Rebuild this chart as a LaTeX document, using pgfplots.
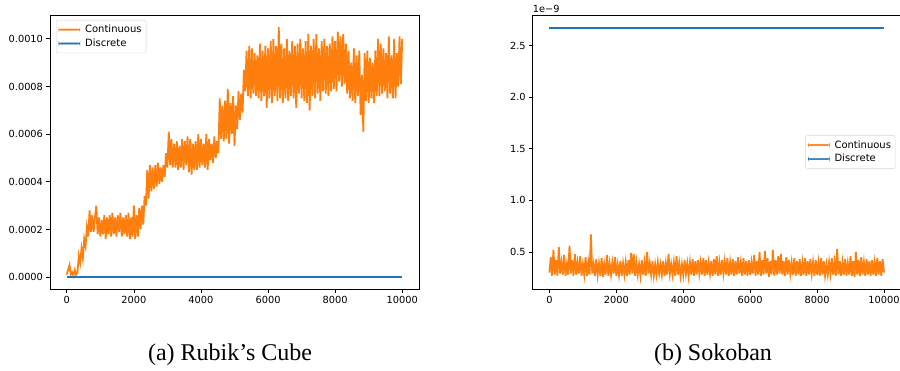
\documentclass[border=0pt]{standalone}
\usepackage{pgfplots}
\pgfplotsset{compat=1.18}
\usepackage{fontspec}
\setmainfont{DejaVu Sans}
\newfontfamily\capfont{Liberation Serif}
\definecolor{mplorange}{HTML}{FF7F0E}
\definecolor{mplblue}{HTML}{1F77B4}
\definecolor{legframe}{HTML}{D6D6D6}
\pgfplotsset{
  mpl/.style={
    scale only axis, width=369pt, height=274pt,
    xmin=-500, xmax=10500,
    tick align=outside, tick pos=left, major tick length=3.5pt,
    axis line style={black, line width=0.7pt},
    every tick/.style={black, line width=0.7pt},
    ticklabel style={font=\fontsize{9.8}{11}\selectfont},
    xtick={0,2000,4000,6000,8000,10000},
    scaled x ticks=false,
    /pgf/number format/1000 sep={},
    /pgf/number format/assume math mode=true,
    legend style={font=\fontsize{10}{12}\selectfont, draw=legframe, rounded corners=2pt,
      fill=white, inner sep=2.5pt, row sep=0pt,
      column sep=3pt,
      nodes={inner xsep=2pt, inner ysep=2.4pt},
      cells={anchor=west}},
  },
  orangeleg/.style={legend image code/.code={\fill[mplorange] (0pt,-0.65pt) rectangle (21pt,0.65pt);}},
  blueleg/.style={legend image code/.code={\fill[mplblue] (0pt,-0.65pt) rectangle (21pt,0.65pt);}},
}
\begin{document}
\begin{tikzpicture}
\begin{axis}[mpl, name=ax1, at={(50pt,81pt)}, anchor=south west,
  ymin=-0.5, ymax=11,
  ytick={0,2,4,6,8,10},
  yticklabel={\pgfmathparse{\tick/10000}\pgfmathprintnumber[fixed,fixed zerofill,precision=4]{\pgfmathresult}},
  legend style={at={(0.0163,0.9818)}, anchor=north west}]
\addlegendimage{orangeleg}
\addlegendentry{Continuous}
\addlegendimage{blueleg}
\addlegendentry{Discrete}
\addplot[mplorange, line width=1.8pt, forget plot] table[row sep=\\, header=false, x expr=\coordindex*40, y index=0] {
0.1\\0.3\\0.5\\0.1\\0.2\\0.05\\0.3\\0.1\\0.2\\0.9\\
0.6\\1.2\\0.8\\1.6\\1.3\\2.1\\1.7\\2.8\\1.9\\2.6\\
1.9\\2.5\\3.0\\1.8\\2.5\\1.7\\2.4\\1.8\\2.6\\1.6\\
2.5\\1.8\\2.6\\1.7\\2.7\\1.8\\2.5\\1.7\\2.6\\1.9\\
2.7\\1.7\\2.5\\1.8\\2.6\\1.7\\2.7\\1.6\\2.5\\1.7\\
3.0\\1.6\\2.6\\1.7\\2.9\\2.0\\3.0\\2.2\\3.4\\3.0\\
4.5\\3.3\\4.7\\3.6\\4.6\\3.7\\4.7\\3.8\\4.8\\3.9\\
4.6\\4.0\\4.7\\4.2\\5.2\\4.6\\6.1\\4.7\\5.8\\4.6\\
5.6\\4.6\\5.7\\4.5\\5.5\\4.6\\5.8\\4.5\\5.7\\4.7\\
5.9\\4.4\\5.8\\4.3\\5.6\\4.5\\5.7\\4.5\\6.0\\4.6\\
5.8\\4.7\\5.6\\4.6\\6.0\\4.5\\5.8\\4.9\\5.6\\4.8\\
5.9\\5.0\\5.7\\5.2\\7.5\\5.8\\7.2\\5.7\\7.4\\5.8\\
7.9\\5.6\\7.3\\6.0\\7.6\\5.5\\7.2\\6.2\\7.8\\6.6\\
7.7\\6.9\\8.7\\7.8\\9.5\\7.6\\9.7\\7.5\\9.6\\7.7\\
9.4\\7.6\\9.3\\7.5\\9.8\\7.4\\9.5\\7.6\\9.7\\7.1\\
9.6\\7.5\\9.9\\7.3\\10.0\\7.6\\9.7\\7.4\\10.5\\7.5\\
9.8\\7.3\\9.6\\7.5\\10.0\\7.4\\9.5\\7.6\\9.9\\7.5\\
9.7\\7.1\\9.8\\7.7\\10.0\\7.5\\9.6\\7.4\\9.9\\7.3\\
10.2\\7.0\\9.7\\7.6\\10.0\\7.5\\10.2\\7.7\\9.6\\7.4\\
9.9\\7.8\\10.0\\7.7\\9.7\\7.6\\9.8\\7.8\\10.1\\7.9\\
9.9\\7.8\\10.3\\8.2\\10.1\\8.0\\10.2\\8.1\\9.8\\7.7\\
9.5\\7.5\\9.0\\7.4\\9.6\\7.3\\9.3\\7.6\\9.5\\6.8\\
8.5\\6.1\\9.4\\7.4\\9.5\\7.3\\9.2\\7.5\\9.0\\7.3\\
9.5\\7.6\\10.0\\7.6\\9.8\\7.7\\9.6\\7.8\\9.4\\7.5\\
10.1\\7.7\\9.3\\7.5\\10.0\\7.5\\9.4\\8.0\\10.1\\8.1\\
10.0\\
};
\addplot[mplblue, line width=1.3pt, forget plot] coordinates {(0,0) (10000,0)};
\end{axis}
\begin{axis}[mpl, name=ax2, at={(532.7pt,81pt)}, anchor=south west, width=368pt,
  ymin=0.141, ymax=2.797,
  ytick={0.5,1.0,1.5,2.0,2.5},
  yticklabel style={/pgf/number format/fixed, /pgf/number format/fixed zerofill, /pgf/number format/precision=1},
  legend style={at={(1,0.5)}, anchor=east, xshift=-5pt}]
\addlegendimage{orangeleg}
\addlegendentry{Continuous}
\addlegendimage{blueleg}
\addlegendentry{Discrete}
\addplot[mplorange, line width=1.8pt, forget plot] table[row sep=\\, header=false, x expr=\coordindex*40, y index=0] {
0.30\\0.45\\0.27\\0.52\\0.28\\0.42\\0.27\\0.55\\0.29\\0.40\\
0.28\\0.47\\0.27\\0.38\\0.28\\0.56\\0.29\\0.42\\0.27\\0.48\\
0.28\\0.40\\0.29\\0.46\\0.27\\0.38\\0.28\\0.45\\0.27\\0.40\\
0.28\\0.67\\0.29\\0.38\\0.27\\0.43\\0.28\\0.39\\0.27\\0.44\\
0.26\\0.38\\0.28\\0.47\\0.27\\0.39\\0.28\\0.40\\0.29\\0.45\\
0.27\\0.38\\0.28\\0.41\\0.27\\0.39\\0.28\\0.40\\0.27\\0.42\\
0.28\\0.49\\0.29\\0.48\\0.27\\0.40\\0.28\\0.38\\0.27\\0.42\\
0.28\\0.40\\0.27\\0.50\\0.29\\0.39\\0.28\\0.41\\0.27\\0.38\\
0.28\\0.40\\0.29\\0.38\\0.28\\0.41\\0.27\\0.39\\0.28\\0.48\\
0.29\\0.38\\0.28\\0.40\\0.27\\0.46\\0.28\\0.39\\0.27\\0.38\\
0.28\\0.42\\0.29\\0.39\\0.27\\0.40\\0.28\\0.43\\0.27\\0.41\\
0.28\\0.42\\0.29\\0.40\\0.28\\0.44\\0.27\\0.42\\0.28\\0.40\\
0.29\\0.41\\0.27\\0.43\\0.28\\0.46\\0.27\\0.40\\0.28\\0.42\\
0.29\\0.41\\0.28\\0.44\\0.27\\0.40\\0.28\\0.43\\0.27\\0.41\\
0.28\\0.45\\0.29\\0.40\\0.27\\0.44\\0.28\\0.41\\0.27\\0.42\\
0.28\\0.40\\0.29\\0.47\\0.27\\0.41\\0.28\\0.50\\0.27\\0.42\\
0.28\\0.51\\0.29\\0.44\\0.26\\0.41\\0.28\\0.52\\0.27\\0.42\\
0.28\\0.46\\0.29\\0.48\\0.28\\0.41\\0.27\\0.45\\0.28\\0.42\\
0.29\\0.40\\0.28\\0.44\\0.27\\0.41\\0.28\\0.43\\0.27\\0.40\\
0.28\\0.44\\0.27\\0.41\\0.28\\0.43\\0.29\\0.40\\0.27\\0.42\\
0.28\\0.40\\0.27\\0.44\\0.28\\0.41\\0.27\\0.38\\0.28\\0.40\\
0.29\\0.44\\0.28\\0.40\\0.27\\0.53\\0.28\\0.41\\0.27\\0.40\\
0.28\\0.43\\0.27\\0.39\\0.28\\0.46\\0.27\\0.41\\0.26\\0.50\\
0.28\\0.42\\0.27\\0.45\\0.28\\0.40\\0.27\\0.43\\0.28\\0.41\\
0.27\\0.42\\0.28\\0.40\\0.27\\0.44\\0.28\\0.41\\0.27\\0.43\\
0.30\\
};
\addplot[mplblue, line width=1.3pt, forget plot] coordinates {(0,2.67) (10000,2.67)};
\end{axis}
\node[anchor=south west, inner sep=0pt, font=\fontsize{9.8}{11}\selectfont] at ([yshift=2.5pt]ax2.north west) {1e\textminus9};
\node[font=\capfont\fontsize{24}{28}\selectfont] at (230pt,15pt) {(a) Rubik’s Cube};
\node[font=\capfont\fontsize{24}{28}\selectfont] at (713pt,15pt) {(b) Sokoban};
\pgfresetboundingbox
\path[use as bounding box] (0pt,0pt) rectangle (900pt,370pt);
\end{tikzpicture}
\end{document}
